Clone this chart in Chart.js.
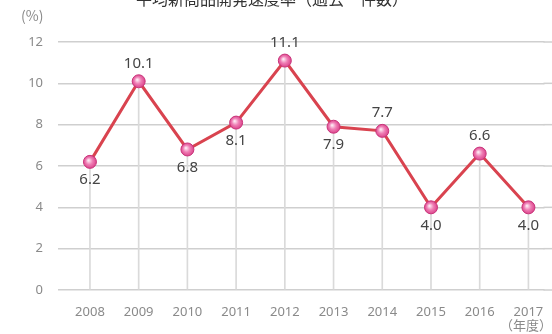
<!DOCTYPE html>
<html>
<head>
<meta charset="utf-8">
<style>
  html, body { margin: 0; padding: 0; background: #fff; }
  #wrap { width: 552px; height: 334px; position: relative; }
</style>
<script src="https://cdn.jsdelivr.net/npm/chart.js@4.4.1/dist/chart.umd.min.js"></script>
</head>
<body>
<div id="wrap"><canvas id="chart" width="552" height="334"></canvas></div>
<script>
// Data
const years = [2008, 2009, 2010, 2011, 2012, 2013, 2014, 2015, 2016, 2017];
const rates = [6.2, 10.1, 6.8, 8.1, 11.1, 7.9, 7.7, 4.0, 6.6, 4.0];
const labelSide = ['below', 'above', 'below', 'below', 'above', 'below', 'above', 'below', 'above', 'below'];
const yTicks = [0, 2, 4, 6, 8, 10, 12];

const titleText = '平均新商品開発速度率（過去一件数）';
const yUnit = '(%)';
const xUnit = '（年度）';

const COLORS = {
    line: '#d9434f',
    grid: '#cfcfcf',
    drop: '#dadada',
    tick: '#8a8a8a',
    label: '#444444'
};

const points = years.map((y, i) => ({ x: y, y: rates[i] }));

// pink sphere-ish marker
function pointFill(ctx) {
    const el = ctx.element;
    if (!el || el.x === undefined) return '#e0579a';
    const c = ctx.chart.ctx;
    const g = c.createRadialGradient(el.x - 1.5, el.y - 1.5, 0.5, el.x, el.y, 7);
    g.addColorStop(0, '#fde6f1');
    g.addColorStop(0.45, '#ef7fb5');
    g.addColorStop(1, '#d93c86');
    return g;
}

// the horizontal grid runs to the right edge of the picture
const gridExtend = {
    id: 'gridExtend',
    beforeDatasetsDraw(chart) {
        const ctx = chart.ctx;
        const yScale = chart.scales.y;
        const right = chart.chartArea.right;
        ctx.save();
        ctx.strokeStyle = COLORS.grid;
        ctx.lineWidth = 1.5;
        yTicks.forEach(v => {
            const py = yScale.getPixelForValue(v);
            ctx.beginPath();
            ctx.moveTo(right - 1, py);
            ctx.lineTo(chart.width, py);
            ctx.stroke();
        });
        ctx.restore();
    }
};

// value labels, unit texts and the cut title
const textPlugin = {
    id: 'texts',
    afterDatasetsDraw(chart) {
        const ctx = chart.ctx;
        const meta = chart.getDatasetMeta(1);
        ctx.save();
        ctx.font = '15px "Noto Sans", sans-serif';
        ctx.fillStyle = COLORS.label;
        ctx.textAlign = 'center';
        ctx.textBaseline = 'middle';
        meta.data.forEach((pt, i) => {
            const dy = labelSide[i] === 'above' ? -18 : 18;
            ctx.fillText(rates[i].toFixed(1), pt.x, pt.y + dy);
        });

        ctx.fillStyle = COLORS.tick;
        ctx.font = '14px "Noto Sans CJK JP", sans-serif';
        ctx.textAlign = 'left';
        ctx.fillText(yUnit, 21, 16);
        ctx.font = '13px "Noto Sans CJK JP", sans-serif';
        ctx.textAlign = 'right';
        ctx.fillText(xUnit, 552, 325);

        ctx.fillStyle = '#333';
        ctx.font = '16px "Noto Sans CJK JP", sans-serif';
        ctx.textAlign = 'center';
        ctx.textBaseline = 'alphabetic';
        ctx.fillText(titleText, 272, 5);
        ctx.restore();
    }
};

new Chart(document.getElementById('chart'), {
    data: {
        datasets: [{
            type: 'bar',
            data: points,
            backgroundColor: COLORS.drop,
            barThickness: 1,
            order: 2
        }, {
            type: 'line',
            data: points,
            borderColor: COLORS.line,
            borderWidth: 3,
            tension: 0,
            pointRadius: 6.5,
            pointBorderWidth: 1,
            pointBorderColor: '#c8347a',
            pointBackgroundColor: pointFill,
            clip: false,
            order: 1
        }]
    },
    options: {
        responsive: false,
        animation: false,
        layout: { padding: { top: 42, right: 0, left: 0, bottom: 0 } },
        plugins: {
            legend: { display: false },
            tooltip: { enabled: false }
        },
        scales: {
            x: {
                type: 'linear',
                offset: false,
                min: 2007.344,
                max: 2017.33,
                grid: { display: false },
                border: { display: false },
                afterBuildTicks: (axis) => {
                    axis.ticks = years.map(v => ({ value: v }));
                },
                afterFit: (axis) => { axis.height = 44; },
                ticks: {
                    color: COLORS.tick,
                    font: { family: '"Noto Sans", sans-serif', size: 13 },
                    padding: 6,
                    maxRotation: 0,
                    autoSkip: false,
                    callback: (v) => String(v)
                }
            },
            y: {
                min: 0,
                max: 12,
                afterBuildTicks: (axis) => {
                    axis.ticks = yTicks.map(v => ({ value: v }));
                },
                afterFit: (axis) => { axis.width = 58; },
                grid: {
                    color: COLORS.grid,
                    lineWidth: 1.5,
                    drawTicks: false
                },
                border: { display: false },
                ticks: {
                    color: COLORS.tick,
                    font: { family: '"Noto Sans", sans-serif', size: 13 },
                    padding: 15
                }
            }
        }
    },
    plugins: [gridExtend, textPlugin]
});
</script>
</body>
</html>
